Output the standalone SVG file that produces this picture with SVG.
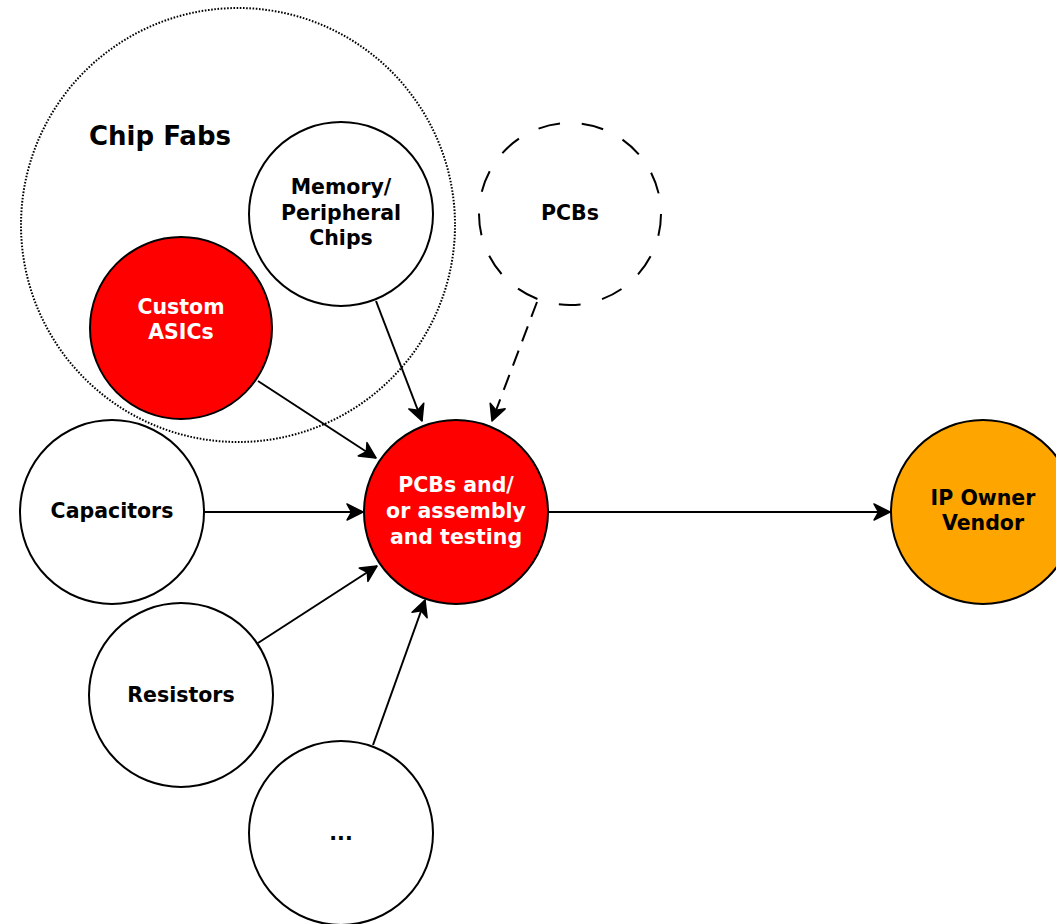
<svg xmlns="http://www.w3.org/2000/svg" width="1056" height="924" viewBox="0 0 1056 924">
<style>
.n{stroke:#000;stroke-width:2}
.w{fill:#fff}
.r{fill:#ff0000}
.o{fill:#ffa500}
.t{font-family:"DejaVu Sans","Liberation Sans",sans-serif;font-weight:bold;font-size:20.5px;text-anchor:middle;fill:#000}
.tw{fill:#fff}
.c{stroke:#000;stroke-width:2;fill:none;marker-end:url(#ah)}
</style>
<defs>
<marker id="ah" viewBox="-1 -1 19 18" refX="16" refY="8" markerWidth="19" markerHeight="18" markerUnits="userSpaceOnUse" orient="auto">
<path d="M0,0 L16,8 L0,16 L4.5,8 Z" fill="#000" stroke="#000" stroke-width="1.5" stroke-linejoin="round"/>
</marker>
</defs>
<rect width="1056" height="924" fill="#fff"/>
<g id="chipfabs">
<circle cx="238" cy="225" r="217" fill="none" stroke="#000" stroke-width="2" stroke-dasharray="1.6 1.6"/>
<text class="t" x="160" y="145" style="font-size:26px">Chip Fabs</text>
</g>
<g id="memory">
<circle class="n w" cx="341" cy="214" r="92"/>
<text class="t" x="341" y="194">Memory/</text>
<text class="t" x="341" y="220">Peripheral</text>
<text class="t" x="341" y="245">Chips</text>
</g>
<g id="asics">
<circle class="n r" cx="181" cy="328" r="91"/>
<text class="t tw" x="181" y="314">Custom</text>
<text class="t tw" x="181" y="339">ASICs</text>
</g>
<g id="pcbs">
<circle cx="570" cy="214" r="91" fill="none" stroke="#000" stroke-width="2" stroke-dasharray="22 22"/>
<text class="t" x="570" y="220">PCBs</text>
</g>
<g id="assembly">
<circle class="n r" cx="456" cy="512" r="92"/>
<text class="t tw" x="456" y="492">PCBs and/</text>
<text class="t tw" x="456" y="518">or assembly</text>
<text class="t tw" x="456" y="544">and testing</text>
</g>
<g id="capacitors">
<circle class="n w" cx="112" cy="512" r="92"/>
<text class="t" x="112" y="518">Capacitors</text>
</g>
<g id="resistors">
<circle class="n w" cx="181" cy="695" r="92"/>
<text class="t" x="181" y="702">Resistors</text>
</g>
<g id="more">
<circle class="n w" cx="341" cy="833" r="92"/>
<text class="t" x="341" y="840">...</text>
</g>
<g id="ipowner">
<circle class="n o" cx="983" cy="512" r="92"/>
<text class="t" x="983" y="505">IP Owner</text>
<text class="t" x="983" y="530">Vendor</text>
</g>
<g id="connectors">
<line class="c" x1="258" y1="381" x2="376" y2="458"/>
<line class="c" x1="376" y1="301" x2="422" y2="421"/>
<line class="c" x1="537" y1="302" x2="492" y2="421" stroke-dasharray="16 10"/>
<line class="c" x1="204" y1="512" x2="363" y2="512"/>
<line class="c" x1="258" y1="643" x2="377" y2="566"/>
<line class="c" x1="373" y1="745" x2="425" y2="600"/>
<line class="c" x1="549" y1="512" x2="890" y2="512"/>
</g>
</svg>
